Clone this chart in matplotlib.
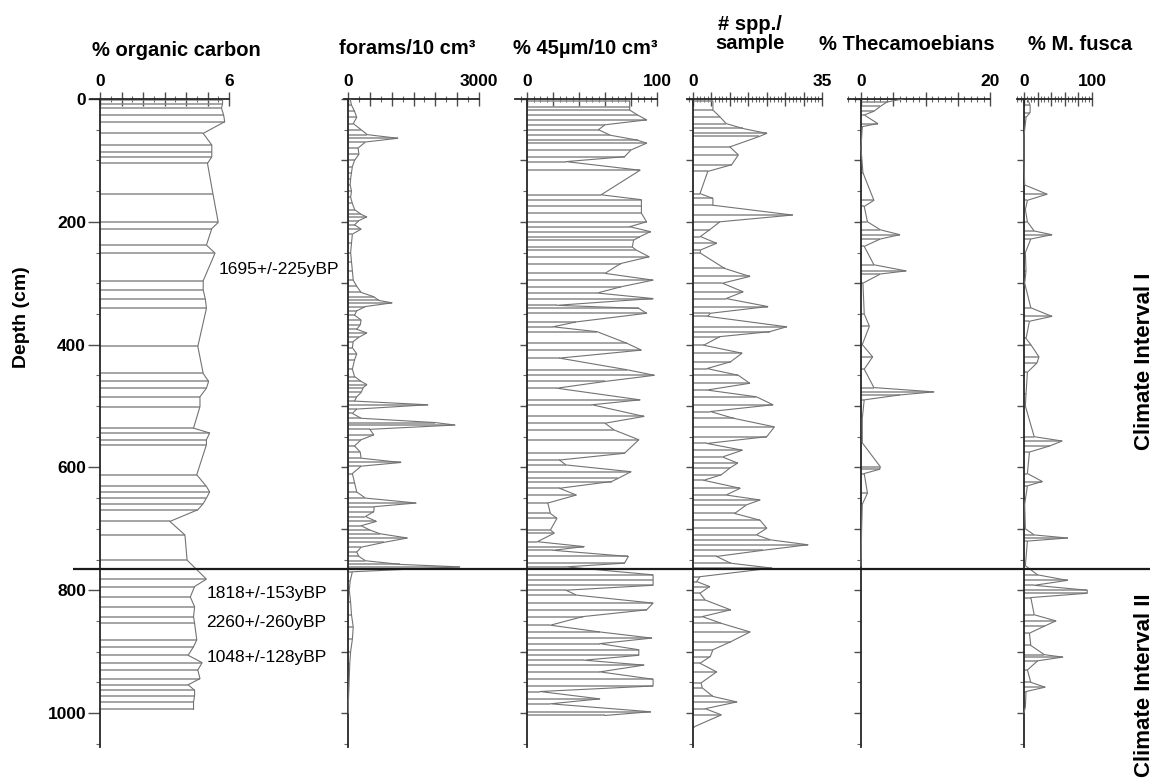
import matplotlib
matplotlib.use('Agg')
import matplotlib.pyplot as plt
from matplotlib.ticker import MultipleLocator, FuncFormatter

plt.rcParams['font.family'] = ['Liberation Sans', 'DejaVu Sans']

# ---- data: (depth cm, value) ----
org_carbon = [(2, 5.7), (8, 5.7), (15, 5.65), (26, 5.75), (37, 5.8), (56, 4.8), (75, 5.2), (86, 5.2),
              (94, 5.2), (105, 5.0), (154, 5.25), (201, 5.5), (211, 5.2), (238, 4.95), (251, 5.35),
              (296, 4.8), (311, 4.8), (326, 4.9), (341, 4.95), (403, 4.55), (447, 4.8), (460, 5.05),
              (471, 4.95), (485, 4.65), (501, 4.65), (536, 4.35), (544, 5.1), (555, 4.95), (563, 4.95),
              (612, 4.5), (631, 4.95), (640, 5.1), (650, 4.95), (659, 4.8), (669, 4.55), (688, 3.25),
              (710, 3.95), (751, 4.05), (782, 4.95), (794, 4.4), (811, 4.2), (827, 4.4), (843, 4.35),
              (854, 4.4), (881, 4.5), (892, 4.35), (906, 4.1), (918, 4.75), (930, 4.55), (944, 4.65),
              (954, 4.1), (963, 4.4), (972, 4.4), (982, 4.35), (994, 4.35)]

forams = [(0, 50), (10, 80), (20, 150), (30, 200), (40, 120), (50, 300), (58, 440), (64, 1140), (70, 400),
          (80, 230), (90, 250), (100, 150), (110, 100), (120, 80), (130, 60), (140, 50), (150, 80), (160, 60),
          (170, 100), (180, 150), (188, 300), (192, 430), (198, 250), (205, 150), (212, 300), (220, 100),
          (235, 80), (250, 60), (265, 80), (280, 100), (295, 120), (305, 200), (315, 300), (322, 590),
          (328, 700), (332, 1010), (338, 400), (345, 200), (352, 150), (360, 300), (368, 280), (375, 200),
          (381, 430), (388, 250), (395, 120), (405, 100), (415, 200), (425, 150), (440, 100), (452, 150),
          (460, 300), (465, 430), (470, 350), (478, 300), (485, 200), (492, 150), (498, 1830), (505, 200),
          (512, 100), (520, 300), (527, 2000), (531, 2450), (538, 500), (547, 590), (555, 300), (565, 150),
          (575, 280), (585, 300), (592, 1210), (598, 300), (610, 100), (625, 150), (640, 200), (650, 400),
          (658, 1560), (664, 600), (672, 590), (680, 400), (688, 650), (695, 300), (702, 500), (708, 730),
          (715, 1360), (722, 830), (730, 300), (738, 200), (745, 250), (752, 400), (758, 1200), (762, 2560),
          (770, 100), (785, 50), (800, 30), (820, 60), (840, 80), (860, 120), (880, 100), (900, 60),
          (920, 40), (940, 30), (960, 20), (980, 10), (1000, 10)]

fine_45 = [(4, 79), (13, 79), (18, 79), (26, 85), (34, 92), (42, 60), (50, 55), (59, 64), (67, 85), (72, 92),
           (83, 80), (94, 75), (102, 30), (116, 87), (156, 57), (164, 88), (175, 88), (186, 88), (200, 92),
           (208, 79), (216, 95), (224, 87), (230, 82), (241, 81), (246, 84), (257, 94), (268, 72), (284, 60),
           (295, 97), (306, 72), (316, 54), (325, 97), (336, 23), (341, 86), (349, 92), (363, 38), (371, 20),
           (379, 54), (398, 77), (409, 88), (422, 25), (441, 77), (450, 98), (460, 60), (471, 23), (490, 87),
           (498, 50), (517, 90), (528, 60), (539, 67), (555, 86), (577, 75), (588, 25), (596, 30), (607, 80),
           (618, 70), (623, 65), (634, 25), (645, 38), (658, 16), (675, 18), (683, 23), (702, 18), (707, 21),
           (721, 8), (729, 44), (735, 20), (745, 78), (756, 75), (762, 30), (775, 97), (783, 97), (792, 97),
           (800, 30), (808, 38), (821, 97), (832, 92), (843, 43), (857, 18), (868, 56), (878, 96), (887, 56),
           (897, 86), (906, 86), (914, 44), (922, 90), (933, 56), (945, 97), (956, 97), (965, 10), (977, 56),
           (985, 18), (998, 95), (1004, 60)]

species = [(4, 5.4), (18, 5.4), (29, 7.3), (40, 9), (48, 13.5), (56, 20), (61, 18), (78, 10), (91, 12.3),
           (107, 10.5), (118, 4), (154, 1.9), (162, 5.4), (173, 5.4), (189, 27), (200, 7.3), (213, 4.5),
           (224, 2), (235, 6.4), (246, 2), (251, 2), (276, 8.6), (289, 15.4), (300, 8), (314, 13.6), (325, 9),
           (338, 20.3), (349, 4.7), (354, 4), (371, 25.4), (379, 20.8), (387, 7.3), (401, 2.9), (414, 13.3),
           (428, 10.2), (439, 3.8), (450, 12.3), (463, 15.4), (474, 3.8), (485, 17.2), (498, 21.7), (509, 4.7),
           (520, 11), (534, 22.1), (550, 20), (561, 3.8), (572, 13.4), (583, 8), (593, 12.1), (601, 10),
           (612, 7.7), (621, 2.9), (634, 12.8), (645, 9), (653, 18.2), (661, 14.5), (675, 11.3), (686, 18.2),
           (699, 20), (710, 17.2), (718, 21), (726, 31.2), (735, 19), (745, 6.4), (756, 10.2), (764, 21.4),
           (778, 1.9), (786, 1), (794, 4.5), (805, 1.9), (816, 3.3), (832, 10.2), (843, 2.5), (854, 7.7),
           (868, 15.5), (884, 10.2), (897, 5.4), (908, 4.7), (919, 1.9), (933, 6.4), (951, 2.2), (959, 2.5),
           (973, 5.4), (982, 11.9), (993, 3.3), (1003, 7.7), (1022, 0.5)]

thecamoebians = [(0, 6.5), (5, 4), (12, 3), (20, 2), (26, 0.5), (40, 2.6), (45, 0.2), (80, 0), (120, 0.3),
                 (165, 2), (175, 0.5), (200, 1), (213, 3), (221, 6), (228, 3), (240, 0.5), (270, 2), (280, 7),
                 (285, 3), (300, 0.3), (350, 0.5), (370, 1.3), (400, 0.2), (420, 1.8), (440, 0.5), (470, 2),
                 (477, 11.3), (482, 6), (490, 0.5), (520, 0.2), (560, 0.2), (599, 3), (603, 2.9), (610, 0.5),
                 (642, 1), (660, 0.2), (700, 0.1), (760, 0)]

m_fusca = [(0, 5), (10, 9), (22, 9), (30, 3), (60, 0), (100, 0), (140, 1), (155, 34), (165, 5), (180, 2),
           (200, 5), (215, 15), (221, 41), (228, 10), (250, 2), (280, 3), (300, 1), (340, 10), (354, 41),
           (362, 8), (390, 3), (400, 10), (420, 22), (430, 19), (445, 5), (480, 3), (500, 2), (550, 15),
           (557, 56), (565, 38), (575, 8), (610, 5), (623, 27), (630, 5), (660, 1), (700, 2), (710, 15),
           (715, 64), (720, 5), (760, 2), (775, 20), (784, 64), (792, 15), (800, 93), (805, 93), (812, 10),
           (840, 15), (850, 47), (858, 31), (870, 8), (890, 10), (905, 30), (909, 57), (915, 20), (930, 5),
           (950, 10), (958, 31), (965, 3), (990, 2), (1000, 0)]

dates = ['1695+/-225yBP', '1818+/-153yBP', '2260+/-260yBP', '1048+/-128yBP']
date_depth = [278, 805, 853, 909]
date_x = [5.5, 4.98, 4.93, 4.98]
boundary_depth = 766

# ---- layout (pixels) ----
W, H = 1156, 784
TOP = 99        # pixel row of depth 0
PXCM = 0.614    # pixels per cm
DMAX = 1055
bottom = 1 - (TOP + DMAX * PXCM) / H
height = DMAX * PXCM / H

fig = plt.figure(figsize=(W / 100, H / 100), dpi=100)

#  data, xmax, px of 0, px of xmax, left overhang, major, minor, title, title x, title y
panels = [
    (org_carbon, 6, 100, 229, 10, 1, 0.5, '% organic carbon', 176, 50),
    (forams, 3000, 348, 479, 4, 500, 250, 'forams/10 cm\u00b3', 407, 48),
    (fine_45, 100, 527, 657, 12, 20, 5, '% 45\u00b5m/10 cm\u00b3', 585, 48),
    (species, 35, 693, 822, 6, 5, 1, '# spp./\nsample', 750, 34),
    (thecamoebians, 20, 861, 990, 13, 5, 1, '% Thecamoebians', 907, 44),
    (m_fusca, 100, 1024, 1092, 7, 20, 5, '% M. fusca', 1080, 45),
]

axes = []
for i, (data, xmax, x0, x1, ext, major, minor, title, tx, ty) in enumerate(panels):
    ax = fig.add_axes([(x0 - ext) / W, bottom, (x1 - x0 + ext) / W, height])
    ax.set_facecolor('none')
    ax.set_xlim(-ext * xmax / (x1 - x0), xmax)
    ax.set_ylim(DMAX, 0)

    d = [p[0] for p in data]
    v = [p[1] for p in data]
    ax.hlines(d, 0, v, color='0.55', lw=1.1, zorder=2)
    ax.plot(v, d, color='0.45', lw=0.8, zorder=3)

    for s in ['right', 'bottom']:
        ax.spines[s].set_visible(False)
    ax.spines['left'].set_position(('data', 0))
    ax.spines['left'].set_color('0.15')
    ax.spines['top'].set_color('0.15')
    ax.spines['left'].set_linewidth(1.3)
    ax.spines['top'].set_linewidth(1.3)

    ax.xaxis.tick_top()
    ax.xaxis.set_major_locator(MultipleLocator(major))
    ax.xaxis.set_minor_locator(MultipleLocator(minor))
    ax.xaxis.set_major_formatter(FuncFormatter(
        lambda x, pos, m=xmax: '%g' % x if abs(x) < 1e-9 or abs(x - m) < 1e-9 else ''))
    ax.tick_params(axis='x', which='major', direction='inout', length=10, width=1, pad=2,
                   labelsize=12.5, color='0.3')
    ax.tick_params(axis='x', which='minor', direction='inout', length=5, width=0.8, color='0.4')
    for lab in ax.get_xticklabels():
        lab.set_fontweight('bold')

    if i == 0:
        ax.yaxis.set_major_locator(MultipleLocator(200))
        ax.tick_params(axis='y', which='major', direction='out', length=9, width=1, pad=1,
                       labelsize=12.5, color='0.3')
        ax.set_yticks([0, 200, 400, 600, 800, 1000])
        for lab in ax.get_yticklabels():
            lab.set_fontweight('bold')
    else:
        ax.yaxis.set_major_locator(MultipleLocator(100))
        ax.tick_params(axis='y', which='major', direction='out', length=5, width=1, labelleft=False,
                       color='0.3')
    ax.yaxis.set_minor_locator(MultipleLocator(50))
    ax.tick_params(axis='y', which='minor', direction='out', length=3, width=0.8, color='0.4')

    fig.text(tx / W, 1 - ty / H, title, ha='center', va='center', fontsize=14.5,
             fontweight='bold', linespacing=1.0)
    axes.append(ax)

# radiocarbon dates beside the organic carbon profile
for lab, dd, xx in zip(dates, date_depth, date_x):
    axes[0].text(xx, dd, lab, ha='left', va='center', fontsize=12.5, clip_on=False)

# overlay for the interval boundary and side labels
over = fig.add_axes([0, bottom, 1, height])
over.set_xlim(0, W)
over.set_ylim(DMAX, 0)
over.axis('off')
over.hlines(boundary_depth, 73, 1150, color='0.1', lw=1.6)
over.text(22, 355, 'Depth (cm)', rotation=90, ha='center', va='center', fontsize=14, fontweight='bold')
over.text(1145, 428, 'Climate Interval I', rotation=90, ha='center', va='center', fontsize=16,
          fontweight='bold', clip_on=False)
over.text(1145, 954, 'Climate Interval II', rotation=90, ha='center', va='center', fontsize=16,
          fontweight='bold', clip_on=False)

fig.savefig('out.png', dpi=100)
